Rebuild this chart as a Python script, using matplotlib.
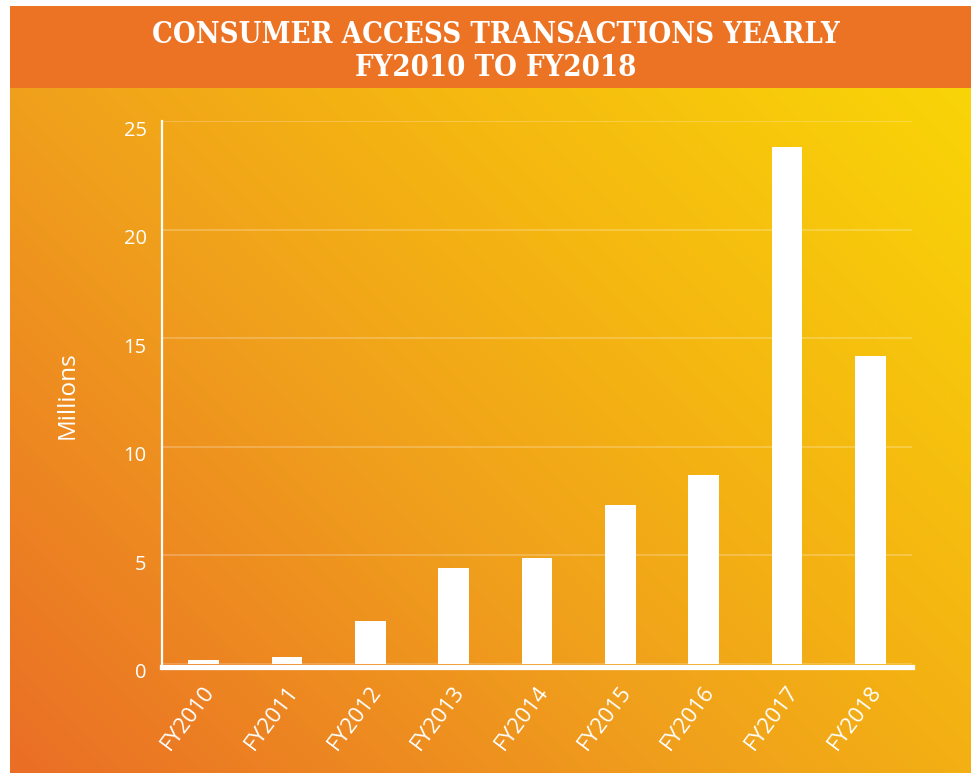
import numpy as np
import matplotlib
matplotlib.use("Agg")
import matplotlib.pyplot as plt
from matplotlib.colors import LinearSegmentedColormap
import matplotlib.transforms as mtransforms
from matplotlib import font_manager as fm

categories = ["FY2010", "FY2011", "FY2012", "FY2013", "FY2014",
              "FY2015", "FY2016", "FY2017", "FY2018"]
values = [0.2, 0.3, 2.0, 4.4, 4.9, 7.3, 8.7, 23.8, 14.2]
yticks = [0, 5, 10, 15, 20, 25]
title = "CONSUMER ACCESS TRANSACTIONS YEARLY\nFY2010 TO FY2018"
ylabel = "Millions"

W, H = 971, 775
fig = plt.figure(figsize=(W / 100, H / 100), dpi=100)
fig.patch.set_facecolor("white")

# gradient background
bx0, bx1, by0, by1 = 10, 971, 88, 773  # pixel box (top-based y)
bg = fig.add_axes([bx0 / W, (H - by1) / H, (bx1 - bx0) / W, (by1 - by0) / H])
bw, bh = bx1 - bx0, by1 - by0
xx, yy = np.meshgrid(np.arange(bw), np.arange(bh)[::-1])
t = (xx + yy) / (bw + bh)
cmap = LinearSegmentedColormap.from_list(
    "bg", [(0.0, "#EA6E26"), (0.42, "#F0A01C"), (0.6, "#F4B113"), (1.0, "#F9D507")])
bg.imshow(t, cmap=cmap, aspect="auto", origin="upper", vmin=0, vmax=1)
bg.set_axis_off()

# title band
band = fig.add_axes([bx0 / W, (H - 88) / H, (bx1 - bx0) / W, (88 - 6) / H])
band.set_facecolor("#EC7324")
band.set_xticks([]); band.set_yticks([])
for s in band.spines.values():
    s.set_visible(False)

cond = fm.FontProperties(family="DejaVu Serif", stretch="condensed", weight="bold")
path = fm.findfont(cond, fallback_to_default=False)
if "Condensed" in path:
    tfam, tstretch, tsize = "DejaVu Serif", "condensed", 21
else:
    tfam, tstretch, tsize = "Liberation Serif", "normal", 22
fig.text(495.5 / W, (H - 51) / H, title, ha="center", va="center",
         color="white", fontsize=tsize, fontweight="bold", fontstretch=tstretch,
         family=tfam, linespacing=1.2)

# main axes
x0, x1, y0, y1 = 162, 912, 664, 121
ax = fig.add_axes([x0 / W, (H - y0) / H, (x1 - x0) / W, (y0 - y1) / H])
ax.patch.set_alpha(0)
for s in ["top", "right"]:
    ax.spines[s].set_visible(False)
ax.spines["left"].set_color("white")
ax.spines["left"].set_linewidth(1.6)
ax.spines["bottom"].set_color("white")
ax.spines["bottom"].set_linewidth(3.8)
ax.spines["bottom"].set_position(("outward", 2.3))
ax.spines["bottom"].set_zorder(4)

x = np.arange(len(categories))
ax.bar(x, values, width=0.37, color="white", zorder=3)
ax.set_xlim(-0.5, len(categories) - 0.5)
ax.set_ylim(0, 25)
ax.set_yticks(yticks)
ax.set_xticks(x)
ax.tick_params(axis="both", length=0)
ax.tick_params(axis="y", pad=11)
ax.tick_params(axis="x", pad=15)
ax.set_xticklabels(categories, rotation=53, ha="right", va="center",
                   rotation_mode="anchor",
                   family="Open Sans", fontsize=16, color="white")
ax.set_yticklabels([str(v) for v in yticks], family="Open Sans", fontsize=14.5,
                   color="white")
yoff = mtransforms.ScaledTranslation(0, -7 / 100, fig.dpi_scale_trans)
for lab in ax.get_yticklabels():
    lab.set_transform(lab.get_transform() + yoff)
xoff = mtransforms.ScaledTranslation(7 / 100, 0, fig.dpi_scale_trans)
for lab in ax.get_xticklabels():
    lab.set_transform(lab.get_transform() + xoff)
ax.grid(axis="y", color="white", alpha=0.22, linewidth=1.5, zorder=1)
ax.grid(axis="x", visible=False)
ax.set_ylabel(ylabel, family="Open Sans", fontsize=17.5, color="white")
ax.yaxis.set_label_coords((80 - x0) / (x1 - x0), (y0 - 395) / (y0 - y1))

fig.savefig("out.png", dpi=100, facecolor=fig.get_facecolor())
